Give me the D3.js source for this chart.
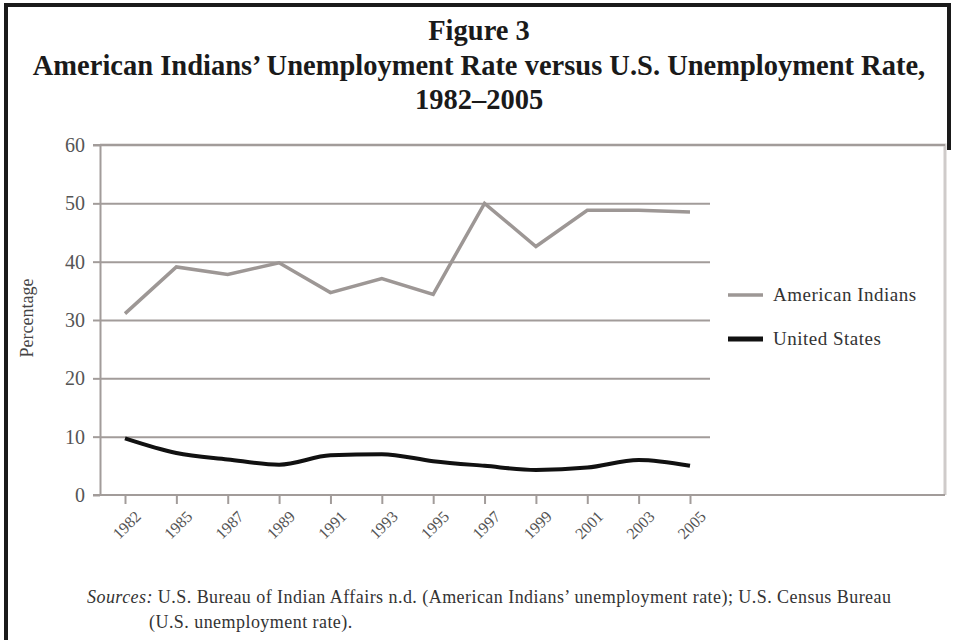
<!DOCTYPE html>
<html>
<head>
<meta charset="utf-8">
<script src="https://cdn.jsdelivr.net/npm/d3@7"></script>
<style>
  body { margin: 0; background: #fff; }
  svg { font-family: "Liberation Serif", "DejaVu Serif", serif; }
  .axis path, .axis line { stroke: #a29c9a; stroke-width: 2; }
  .axis text { fill: #555; font-family: "Liberation Serif", serif; }
</style>
</head>
<body>
<svg id="chart" width="955" height="640"></svg>
<script>
// Data
var years = ["1982", "1985", "1987", "1989", "1991", "1993", "1995", "1997", "1999", "2001", "2003", "2005"];
var indians = [31.1, 39.1, 37.8, 39.8, 34.7, 37.1, 34.4, 50.0, 42.6, 48.8, 48.8, 48.5];
var us = [9.7, 7.2, 6.1, 5.2, 6.8, 7.0, 5.8, 5.0, 4.3, 4.7, 6.0, 5.0];
var yTicks = [0, 10, 20, 30, 40, 50, 60];
var seriesNames = ["American Indians", "United States"];

// Layout
var axis_left = 100;
var axis_bottom = 495;
var axis_top = 145;
var grid_right = 710;
var frame_right = 945;

var svg = d3.select("#chart");

// Page border (scanned box)
svg.append("path")
    .attr("d", "M6,640 V5 H949 V150")
    .attr("fill", "none")
    .attr("stroke", "#1a1a1a")
    .attr("stroke-width", 4);

// Titles
var titles = [
    {text: "Figure 3", y: 40},
    {text: "American Indians\u2019 Unemployment Rate versus U.S. Unemployment Rate,", y: 75},
    {text: "1982\u20132005", y: 109}
];
svg.selectAll(".title")
    .data(titles)
    .enter()
    .append("text")
    .attr("class", "title")
    .attr("x", 479)
    .attr("y", d => d.y)
    .attr("text-anchor", "middle")
    .attr("font-weight", "bold")
    .attr("font-size", 28.5)
    .attr("fill", "#1a1a1a")
    .text(d => d.text);

// Scales
var x = d3.scalePoint().domain(years).range([125, 690]);
var y = d3.scaleLinear().domain([0, 60]).range([axis_bottom, axis_top]);

// Light frame round the plot + legend
svg.append("path")
    .attr("d", "M" + axis_left + "," + axis_top + " H" + frame_right + " V" + axis_bottom)
    .attr("fill", "none")
    .attr("stroke", "#cfcbca")
    .attr("stroke-width", 3);

// Gridlines
svg.append("g")
    .attr("class", "axis grid")
    .attr("transform", "translate(" + axis_left + ",0)")
    .call(d3.axisRight(y)
        .tickValues(yTicks.filter(d => d > 0 && d < 60))
        .tickSize(grid_right - axis_left)
        .tickFormat(""))
    .call(g => g.select(".domain").remove());

// Top line (60)
svg.append("line")
    .attr("x1", axis_left - 7).attr("x2", frame_right)
    .attr("y1", y(60)).attr("y2", y(60))
    .attr("stroke", "#a29c9a").attr("stroke-width", 2);

// Y axis
svg.append("g")
    .attr("class", "axis")
    .attr("transform", "translate(" + axis_left + ",0)")
    .call(d3.axisLeft(y)
        .tickValues(yTicks)
        .tickSize(7)
        .tickPadding(8)
        .tickSizeOuter(0))
    .call(g => g.selectAll("text").attr("font-size", 20));

// X axis
svg.append("g")
    .attr("class", "axis")
    .attr("transform", "translate(0," + axis_bottom + ")")
    .call(d3.axisBottom(x).tickSize(9).tickSizeOuter(0))
    .call(g => g.select(".domain").attr("d", "M" + (axis_left - 7) + ",0H" + frame_right))
    .call(g => g.selectAll("text")
        .attr("font-size", 16)
        .attr("text-anchor", "end")
        .attr("dy", 0)
        .attr("transform", "translate(8,14) rotate(-45)"));

// Y label
svg.append("text")
    .attr("transform", "translate(33,318) rotate(-90)")
    .attr("text-anchor", "middle")
    .attr("font-size", 18)
    .attr("fill", "#444")
    .text("Percentage");

// Lines
var line = d3.line()
    .x((d, i) => x(years[i]))
    .y(d => y(d));

svg.append("path")
    .datum(indians)
    .attr("fill", "none")
    .attr("stroke", "#9d9795")
    .attr("stroke-width", 3.5)
    .attr("d", line);

svg.append("path")
    .datum(us)
    .attr("fill", "none")
    .attr("stroke", "#111")
    .attr("stroke-width", 4)
    .attr("d", line.curve(d3.curveMonotoneX));

// Legend
var legend = svg.append("g").attr("transform", "translate(728,0)");
var legendRows = [
    {name: seriesNames[0], color: "#9d9795", width: 3.5, y: 295},
    {name: seriesNames[1], color: "#111", width: 5, y: 339}
];
legendRows.forEach(function (r) {
    legend.append("line")
        .attr("x1", 0).attr("x2", 35)
        .attr("y1", r.y).attr("y2", r.y)
        .attr("stroke", r.color)
        .attr("stroke-width", r.width);
    legend.append("text")
        .attr("x", 45).attr("y", r.y + 6)
        .attr("font-size", 19)
        .attr("letter-spacing", 0.5)
        .attr("fill", "#333")
        .text(r.name);
});

// Sources note
var note = svg.append("text")
    .attr("x", 87).attr("y", 603)
    .attr("font-size", 18)
    .attr("letter-spacing", 0.45)
    .attr("fill", "#333");
note.append("tspan").attr("font-style", "italic").text("Sources:");
note.append("tspan").text(" U.S. Bureau of Indian Affairs n.d. (American Indians\u2019 unemployment rate); U.S. Census Bureau");
svg.append("text")
    .attr("x", 149).attr("y", 628)
    .attr("font-size", 18)
    .attr("letter-spacing", 0.45)
    .attr("fill", "#333")
    .text("(U.S. unemployment rate).");
</script>
</body>
</html>
